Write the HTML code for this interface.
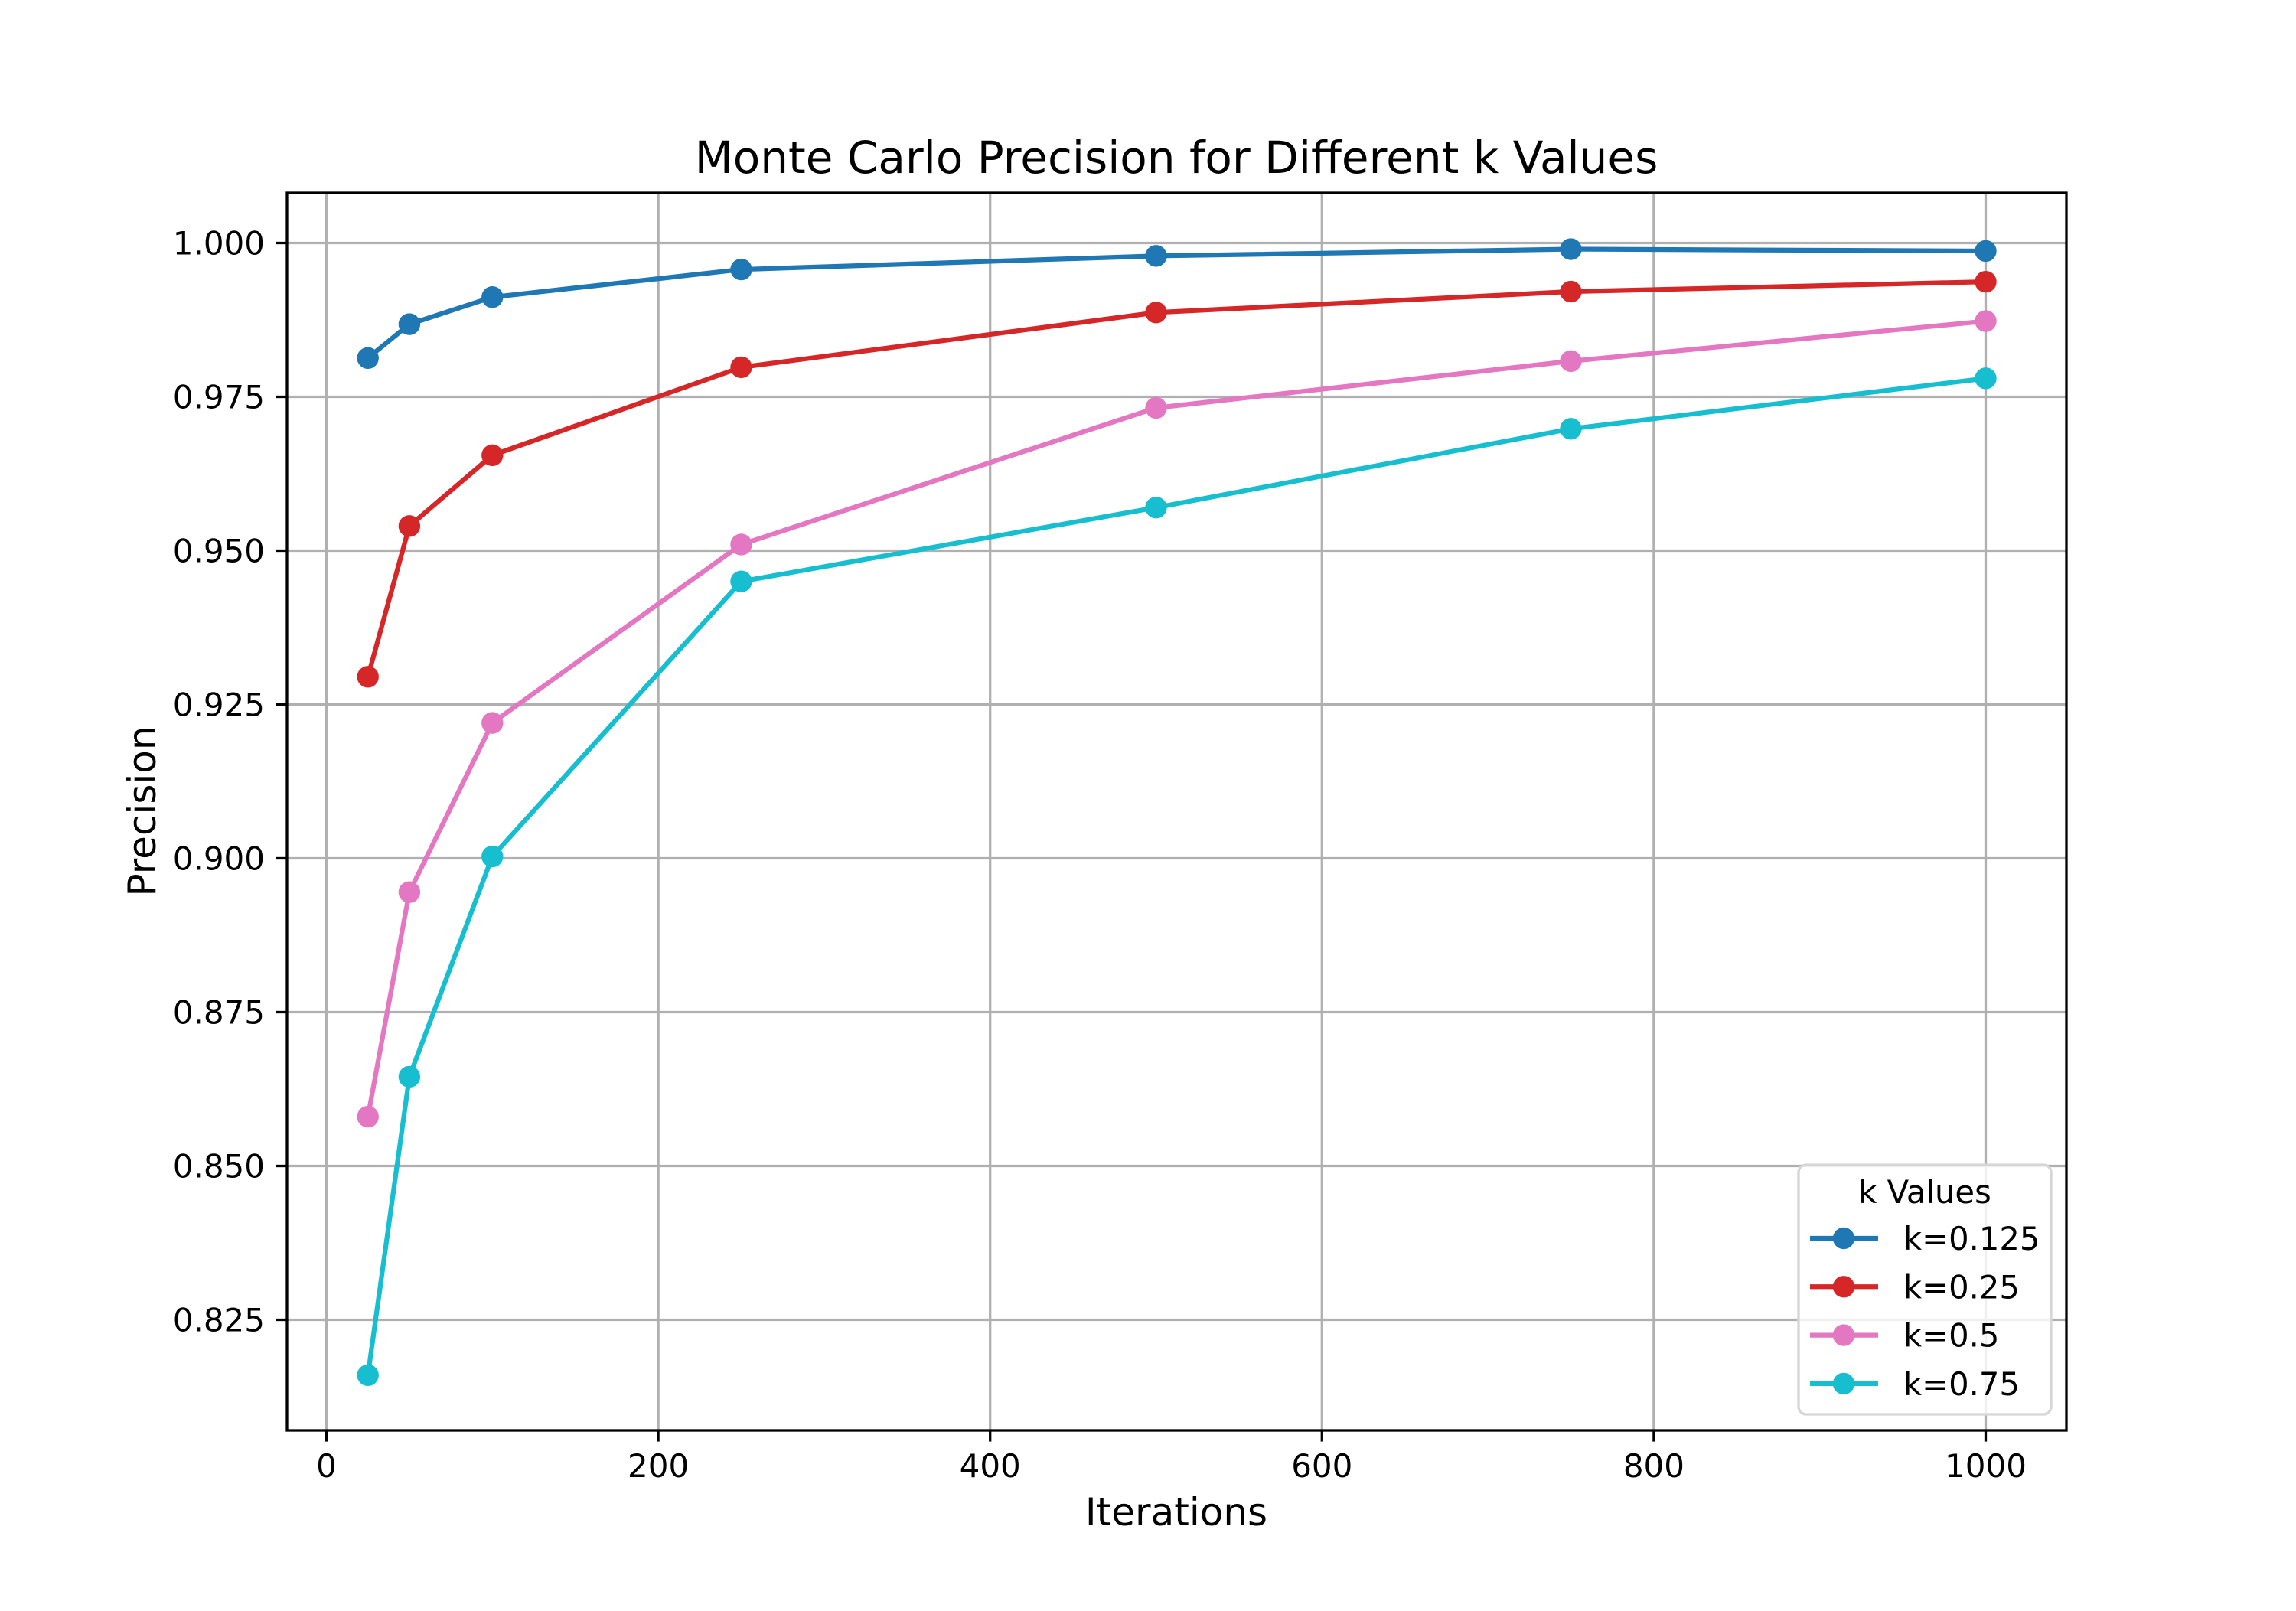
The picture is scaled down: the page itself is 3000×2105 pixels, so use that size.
<!DOCTYPE html>
<html><head><meta charset="utf-8"><style>
body{margin:0;background:#fff}
svg text{font-family:"DejaVu Sans","Liberation Sans",sans-serif;fill:#000}
</style></head><body>
<svg id="chart" width="3000" height="2100" viewBox="0 0 3000 2100" xmlns="http://www.w3.org/2000/svg">
<rect width="3000" height="2100" fill="#fff"/>
<g id="grid"></g>
<g id="series"></g>
<rect x="375" y="252" width="2325" height="1617" fill="none" stroke="#000" stroke-width="3.3"/>
<g id="ticks"></g>
<text x="1537" y="226" font-size="58" text-anchor="middle">Monte Carlo Precision for Different k Values</text>
<text x="1537" y="1993" font-size="50" text-anchor="middle">Iterations</text>
<text transform="translate(203,1060) rotate(-90)" font-size="50" text-anchor="middle">Precision</text>
<g id="legend"></g>
</svg>
<script>
const iterations=[25,50,100,250,500,750,1000];
const seriesNames=["k=0.125","k=0.25","k=0.5","k=0.75"];
const k0125=[0.9813,0.9868,0.9912,0.9957,0.9979,0.9990,0.9987];
const k025=[0.9295,0.9540,0.9655,0.9798,0.9887,0.9921,0.9937];
const k05=[0.8580,0.8945,0.9220,0.9510,0.9732,0.9808,0.9873];
const k075=[0.8160,0.8645,0.9003,0.9450,0.9570,0.9698,0.9780];
const xTicks=[0,200,400,600,800,1000];
const yTicks=[0.825,0.850,0.875,0.900,0.925,0.950,0.975,1.000];
const colors=["#1f77b4","#d62728","#e377c2","#17becf"];
const allSeries=[k0125,k025,k05,k075];
const NS="http://www.w3.org/2000/svg";
const L=375,R=2700,T=252,B=1869;
function xs(v){return 426.5+v*2.168;}
function ys(v){return 317.5+(1-v)/0.025*201.0;}
function mk(tag,attrs,parent){const e=document.createElementNS(NS,tag);for(const k in attrs)e.setAttribute(k,attrs[k]);parent.appendChild(e);return e;}
const grid=document.getElementById('grid'),ticks=document.getElementById('ticks'),ser=document.getElementById('series'),leg=document.getElementById('legend');
xTicks.forEach(t=>{const x=xs(t);
 const g=mk('line',{x1:x,x2:x,y1:T,y2:B,stroke:'#b0b0b0','stroke-width':3.3},grid);
 
 const tk=mk('line',{x1:x,x2:x,y1:B,y2:B+14.6,stroke:'#000','stroke-width':3.3},ticks);
 
 const tx=mk('text',{x:x,y:B+61,'font-size':42,'text-anchor':'middle'},ticks);tx.textContent=String(t);
 });
yTicks.forEach(t=>{const y=ys(t);
 const g=mk('line',{x1:L,x2:R,y1:y,y2:y,stroke:'#b0b0b0','stroke-width':3.3},grid);
 
 const tk=mk('line',{x1:L-14.6,x2:L,y1:y,y2:y,stroke:'#000','stroke-width':3.3},ticks);
 
 const tx=mk('text',{x:L-29,y:y+15,'font-size':42,'text-anchor':'end'},ticks);tx.textContent=t.toFixed(3);
 });
allSeries.forEach((vals,i)=>{
 const pts=vals.map((v,j)=>xs(iterations[j])+','+ys(v)).join(' ');
 const pl=mk('polyline',{points:pts,fill:'none',stroke:colors[i],'stroke-width':6.25,'stroke-linejoin':'round'},ser);
 
 vals.forEach((v,j)=>{const c=mk('circle',{cx:xs(iterations[j]),cy:ys(v),r:14.2,fill:colors[i]},ser);
  });
});
const box=mk('rect',{x:2350,y:1522,width:330,height:326,rx:10,fill:'#fff','fill-opacity':0.8,stroke:'#d6d6d6','stroke-width':3.3},leg);

const lt=mk('text',{x:2515,y:1572,'font-size':41.7,'text-anchor':'middle'},leg);lt.textContent='k Values';

seriesNames.forEach((n,i)=>{const y=1618+i*63.3;
 const g=mk('g',{},leg);
 
 mk('line',{x1:2365,x2:2454,y1:y,y2:y,stroke:colors[i],'stroke-width':6.25},g);
 mk('circle',{cx:2409,cy:y,r:14.2,fill:colors[i]},g);
 const t=mk('text',{x:2487,y:y+15,'font-size':41.7},g);t.textContent=n;});
</script>
</body></html>
